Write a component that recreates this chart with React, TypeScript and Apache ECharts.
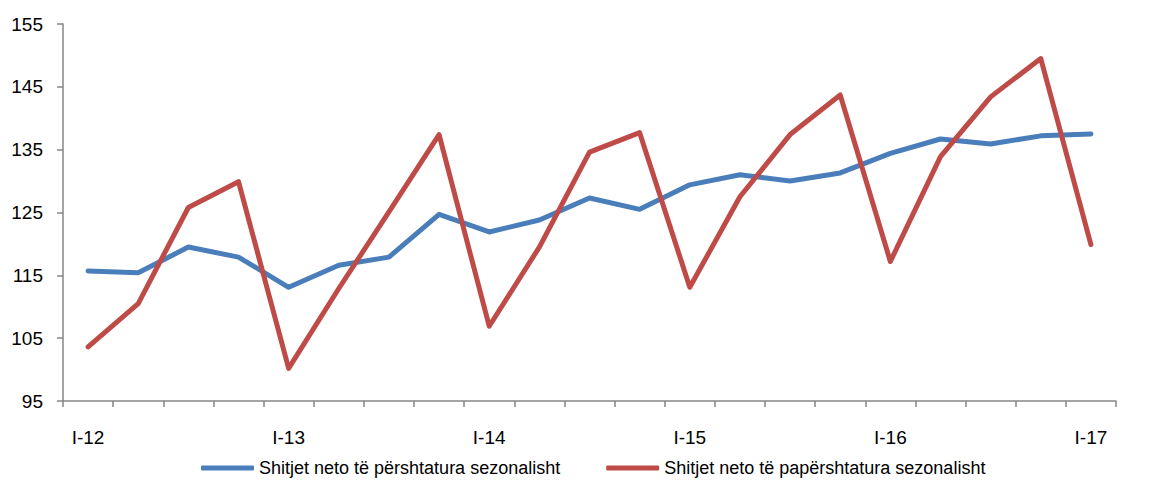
import React, { useEffect, useRef } from "react";
import * as echarts from "echarts";

const categories = [
  "I-12", "II-12", "III-12", "IV-12",
  "I-13", "II-13", "III-13", "IV-13",
  "I-14", "II-14", "III-14", "IV-14",
  "I-15", "II-15", "III-15", "IV-15",
  "I-16", "II-16", "III-16", "IV-16",
  "I-17",
];

const adjusted = [
  115.7, 115.4, 119.5, 117.9, 113.1, 116.6, 117.9, 124.7, 121.9, 123.8,
  127.3, 125.5, 129.4, 131.0, 130.0, 131.3, 134.4, 136.7, 135.9, 137.2, 137.5,
];

const unadjusted = [
  103.6, 110.5, 125.8, 129.9, 100.2, 112.9, 125.1, 137.4, 106.9, 119.5,
  134.6, 137.7, 113.1, 127.5, 137.4, 143.7, 117.2, 133.9, 143.4, 149.5, 119.9,
];

const seriesNames = [
  "Shitjet neto të përshtatura sezonalisht",
  "Shitjet neto të papërshtatura sezonalisht",
];

const yMin = 95;
const yMax = 155;
const yInterval = 10;

const FONT = "'Liberation Sans Narrow', 'Arial Narrow', 'Liberation Sans', Arial, sans-serif";

export default function App() {
  const ref = useRef<HTMLDivElement>(null);

  useEffect(() => {
    if (!ref.current) return;
    const chart = echarts.init(ref.current, null, { renderer: "svg" });
    chart.setOption({
      animation: false,
      backgroundColor: "#ffffff",
      grid: { left: 63, right: 38, top: 24, bottom: 80, containLabel: false },
      legend: {
        bottom: -1,
        left: 196,
        itemWidth: 53,
        itemHeight: 5,
        itemGap: 46,
        icon: "roundRect",
        textStyle: { fontFamily: FONT, fontSize: 18, color: "#000" },
        data: seriesNames,
      },
      xAxis: {
        type: "category",
        data: categories,
        boundaryGap: true,
        axisLine: { lineStyle: { color: "#868686", width: 1.5 } },
        axisTick: { show: true, interval: 0, length: 6, lineStyle: { color: "#868686", width: 1.5 } },
        axisLabel: {
          interval: 3,
          margin: 27,
          fontFamily: FONT,
          fontSize: 19,
          color: "#000",
        },
        splitLine: { show: false },
      },
      yAxis: {
        type: "value",
        min: yMin,
        max: yMax,
        interval: yInterval,
        axisLine: { show: true, lineStyle: { color: "#868686", width: 1.5 } },
        axisTick: { show: true, length: 6, lineStyle: { color: "#868686", width: 1.5 } },
        axisLabel: { margin: 20, fontFamily: FONT, fontSize: 19, color: "#000" },
        splitLine: { show: false },
      },
      series: [
        {
          name: seriesNames[0],
          type: "line",
          data: adjusted,
          showSymbol: false,
          symbol: "none",
          color: "#4A7EBB",
          lineStyle: { color: "#4A7EBB", width: 5, cap: "round", join: "round" },
        },
        {
          name: seriesNames[1],
          type: "line",
          data: unadjusted,
          showSymbol: false,
          symbol: "none",
          color: "#BE4B48",
          lineStyle: { color: "#BE4B48", width: 5, cap: "round", join: "round" },
        },
      ],
    });
    return () => chart.dispose();
  }, []);

  return (
    <div
      ref={ref}
      style={{ position: "fixed", left: 0, top: 0, width: 1154, height: 481 }}
    />
  );
}
